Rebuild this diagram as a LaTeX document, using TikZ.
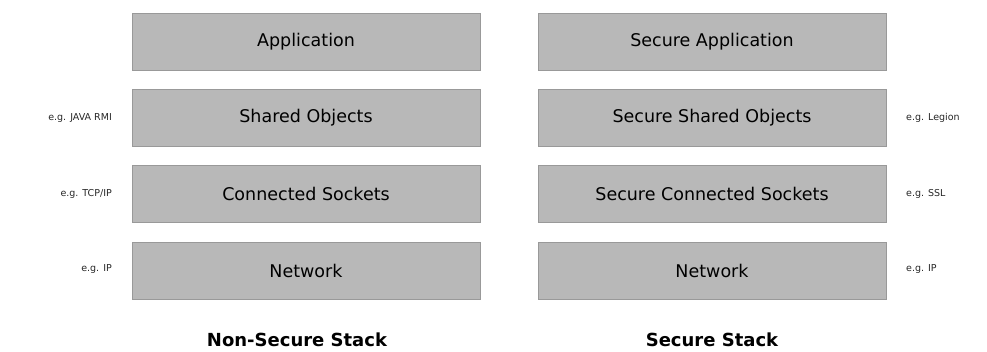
\documentclass[tikz,border=0pt]{standalone}
\usepackage{fontspec}
\setmainfont{DejaVu Sans}
\begin{document}
\begin{tikzpicture}[x=1pt,y=-1pt,
  layer/.style={draw=gray!80, fill={rgb,255:red,184;green,184;blue,184}, minimum width=348pt, minimum height=57pt, inner sep=0pt, font=\fontsize{17.5}{20}\selectfont, text=black},
  eg/.style={font=\fontsize{9.5}{11}\selectfont, inner sep=0pt, text=black!85},
  title/.style={font=\bfseries\fontsize{18}{22}\selectfont, inner sep=0pt}]
\useasboundingbox (0,0) rectangle (987,352);
% left stack
\node[layer] (la) at (306,41.5) {Application};
\node[layer] (ls) at (306,117.5) {Shared Objects};
\node[layer] (lc) at (306,194) {Connected Sockets};
\node[layer] (ln) at (306,271) {Network};
% right stack
\node[layer] (ra) at (712,41.5) {Secure Application};
\node[layer] (rs) at (712,117.5) {Secure Shared Objects};
\node[layer] (rc) at (712,194) {Secure Connected Sockets};
\node[layer] (rn) at (712,271) {Network};
% left labels
\node[eg, anchor=east] (l1) at (112,118) {e.g. JAVA RMI};
\node[eg, anchor=east] (l2) at (112,193.5) {e.g. TCP/IP};
\node[eg, anchor=east] (l3) at (112,269.5) {e.g. IP};
% right labels
\node[eg, anchor=west] (r1) at (906,118) {e.g. Legion};
\node[eg, anchor=west] (r2) at (906,193.5) {e.g. SSL};
\node[eg, anchor=west] (r3) at (906,269.5) {e.g. IP};
% titles
\node[title] (t1) at (297,340) {Non-Secure Stack};
\node[title] (t2) at (712,340) {Secure Stack};
\end{tikzpicture}
\end{document}
